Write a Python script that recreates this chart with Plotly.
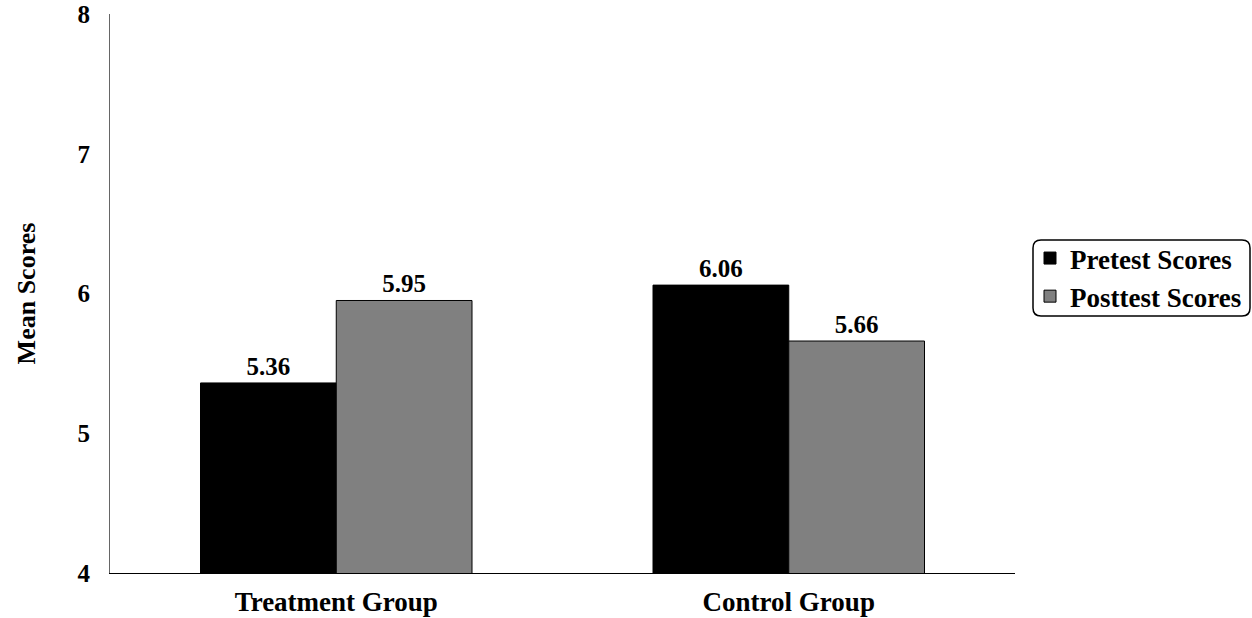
import plotly.graph_objects as go

categories = ["Treatment Group", "Control Group"]
pretest = [5.36, 6.06]
posttest = [5.95, 5.66]
series_names = ["Pretest Scores", "Posttest Scores"]
y_ticks = [4, 5, 6, 7, 8]

FONT = "Liberation Serif"
BOLD = dict(family=FONT, color="black", weight="bold")

W, H = 1252, 618
PL, PR, PT, PB = 110, 1015, 14, 573          # plot area in pixels
L, R, T, B = PL, W - PR, PT, H - PB

def px(xw):
    return (xw - PL) / (PR - PL)
def py(yw):
    return (PB - yw) / (PB - PT)

fig = go.Figure()
fig.add_trace(go.Bar(
    x=categories, y=pretest, name=series_names[0],
    marker=dict(color="#000000", line=dict(color="#000000", width=1)),
    text=[f"{v:.2f}" for v in pretest], textposition="outside",
    textfont=dict(size=25, **BOLD),
    cliponaxis=False,
))
fig.add_trace(go.Bar(
    x=categories, y=posttest, name=series_names[1],
    marker=dict(color="#808080", line=dict(color="#000000", width=1)),
    text=[f"{v:.2f}" for v in posttest], textposition="outside",
    textfont=dict(size=25, **BOLD),
    cliponaxis=False,
))

fig.update_layout(
    width=W, height=H,
    margin=dict(l=L, r=R, t=T, b=B, autoexpand=False),
    paper_bgcolor="white", plot_bgcolor="white",
    barmode="group", bargap=0.4, bargroupgap=0,
    font=dict(size=24, **BOLD),
    showlegend=True,
    legend=dict(
        x=px(1030), y=py(234),
        xanchor="left", yanchor="top",
        bgcolor="rgba(0,0,0,0)", borderwidth=0,
        font=dict(size=27, **BOLD),
        tracegroupgap=0, itemwidth=30,
    ),
    xaxis=dict(
        showline=True, linecolor="black", linewidth=1,
        showgrid=False, ticks="", automargin=False,
        tickfont=dict(size=27, **BOLD),
        ticklabelstandoff=5,
        range=[-0.5, 1.5],
    ),
    yaxis=dict(
        range=[4, 8], tickvals=y_ticks,
        showline=True, linecolor="#666666", linewidth=1,
        showgrid=False, zeroline=False, ticks="", automargin=False,
        tickfont=dict(size=25, **BOLD),
        ticklabelstandoff=14, ticklabeloverflow="allow",
        title=dict(text="Mean Scores", font=dict(size=26, **BOLD), standoff=34),
    ),
)

# rounded legend frame
x0, x1, y0, y1, r = 1033, 1250, 240, 316, 8
path = (f"M {px(x0+r)},{py(y0)} L {px(x1-r)},{py(y0)} Q {px(x1)},{py(y0)} {px(x1)},{py(y0+r)} "
        f"L {px(x1)},{py(y1-r)} Q {px(x1)},{py(y1)} {px(x1-r)},{py(y1)} "
        f"L {px(x0+r)},{py(y1)} Q {px(x0)},{py(y1)} {px(x0)},{py(y1-r)} "
        f"L {px(x0)},{py(y0+r)} Q {px(x0)},{py(y0)} {px(x0+r)},{py(y0)} Z")
fig.add_shape(type="path", xref="paper", yref="paper", path=path,
              line=dict(color="black", width=1.5), fillcolor="rgba(0,0,0,0)", layer="above")

fig.write_html("out.html", config={"displayModeBar": False},
               post_script="document.body.style.margin='0px';")
